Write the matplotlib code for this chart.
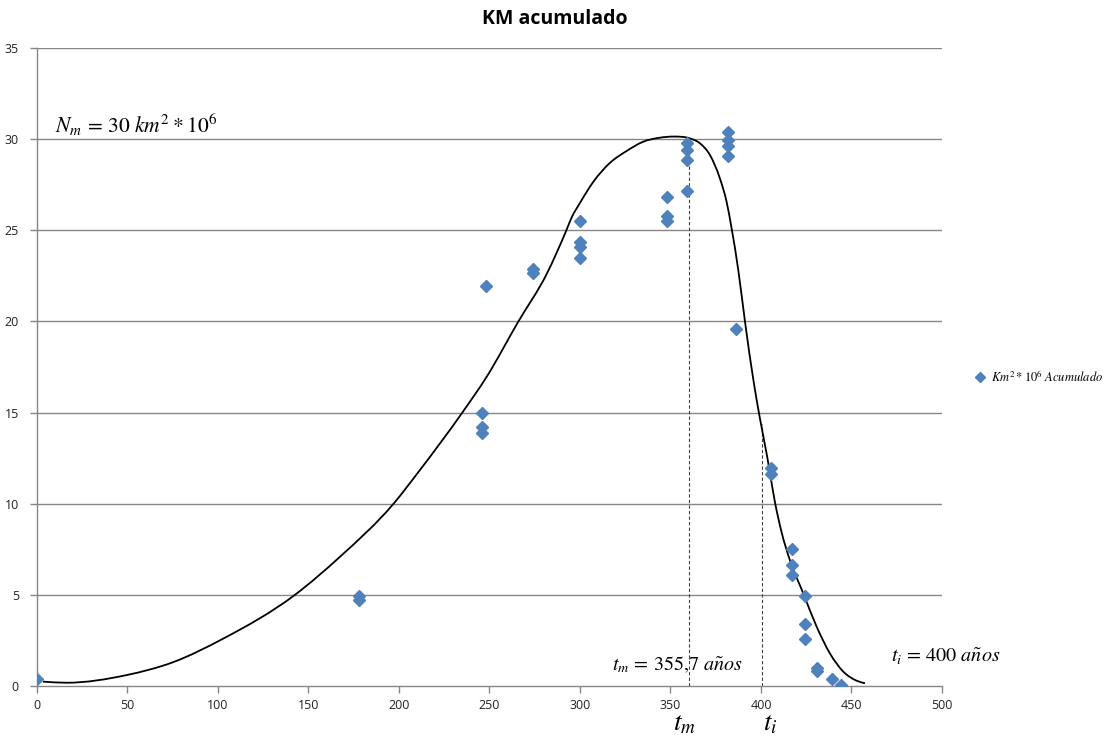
import numpy as np
import matplotlib
matplotlib.use("Agg")
import matplotlib.pyplot as plt
import matplotlib.transforms as mtransforms
from matplotlib.path import Path
from matplotlib.patches import PathPatch

plt.rcParams['font.family'] = ['Open Sans', 'DejaVu Sans']
plt.rcParams['mathtext.fontset'] = 'stix'

# Puntos medidos (años, km2 * 10^6 acumulado)
x_pts = [0, 178, 178, 246, 246, 246, 248, 274, 274, 300, 300, 300, 300,
         348, 348, 348, 359, 359, 359, 359, 382, 382, 382, 382, 386,
         405.5, 405.5, 417, 417, 417, 424.5, 424.5, 424.5, 431, 431, 439, 444.5]
y_pts = [0.38, 4.94, 4.72, 14.96, 14.22, 13.86, 21.94, 22.9, 22.64, 25.5, 24.37, 24.1, 23.46,
         26.8, 25.8, 25.5, 29.8, 29.4, 28.85, 27.15, 30.4, 29.95, 29.6, 29.07, 19.57,
         11.94, 11.63, 7.5, 6.64, 6.09, 4.94, 3.4, 2.6, 0.97, 0.8, 0.37, 0.05]

# Curva ajustada
x_fit = [3.3, 16.4, 49.5, 75, 102.9, 142.5, 167.4, 197, 211.6, 235, 248.5,
         266, 281.6, 292.5, 295.4, 300, 307.4, 316.6, 325.8, 335, 344.2,
         351.5, 360.8, 366.3, 371.8, 377.3, 381, 383.8, 387.5, 391.2, 395.8,
         399.4, 403.5, 407.7, 411.5, 416, 423.4, 430.8, 438.1, 445.5, 452.9, 457.5]
y_fit = [0.24, 0.18, 0.6, 1.3, 2.6, 5.0, 7.09, 10.0, 11.85, 15.0, 16.97,
         20.0, 22.6, 25.0, 25.7, 26.5, 27.66, 28.7, 29.35, 29.86, 30.08,
         30.14, 30.04, 29.77, 29.13, 27.85, 26.57, 25.1, 22.8, 19.98, 16.8,
         14.7, 12.55, 10.1, 8.4, 6.9, 5.08, 3.25, 1.79, 0.79, 0.29, 0.15]

t_m = 360.2
t_i = 400.5
y_tm = 30.04
y_ti = 14.4

x_ticks = np.arange(0, 501, 50)
y_ticks = np.arange(0, 36, 5)


def smooth_path(xs, ys):
    # linea suavizada (Hermite cubica en x -> Bezier)
    x = np.asarray(xs, float)
    y = np.asarray(ys, float)
    h = np.diff(x)
    d = np.diff(y) / h
    m = np.empty_like(y)
    m[0], m[-1] = d[0], d[-1]
    m[1:-1] = (d[:-1] * h[1:] + d[1:] * h[:-1]) / (h[:-1] + h[1:])
    verts = [(x[0], y[0])]
    codes = [Path.MOVETO]
    for i in range(len(x) - 1):
        verts += [(x[i] + h[i] / 3, y[i] + m[i] * h[i] / 3),
                  (x[i + 1] - h[i] / 3, y[i + 1] - m[i + 1] * h[i] / 3),
                  (x[i + 1], y[i + 1])]
        codes += [Path.CURVE4] * 3
    return Path(verts, codes)


fig = plt.figure(figsize=(11.1, 7.36), dpi=100)
ax = fig.add_axes([0.0333, 0.0679, 0.8153, 0.8669])

grid_c = '#868686'
for yt in y_ticks[1:]:
    ax.axhline(yt, color=grid_c, lw=1, zorder=0)

ax.plot([t_m, t_m], [0, y_tm], color='#404040', lw=0.8, ls=(0, (3, 2)), zorder=1)
ax.plot([t_i, t_i], [0, y_ti], color='#404040', lw=0.8, ls=(0, (3, 2)), zorder=1)

ax.add_patch(PathPatch(smooth_path(x_fit, y_fit), fill=False, edgecolor='black',
                       lw=1.3, zorder=2))
ax.plot(x_pts, y_pts, ls='none', marker='D', ms=6.5, color='#4F81BD',
        markeredgecolor='#4F81BD', label=r'$Km^2 * 10^6\ Acumulado$', zorder=3)

ax.set_xlim(0, 500)
ax.set_ylim(0, 35)
ax.set_xticks(x_ticks)
ax.set_yticks(y_ticks)
ax.tick_params(axis='both', direction='out', length=5, color=grid_c,
               labelsize=9, labelcolor='#222222', width=1)
ax.tick_params(axis='x', pad=4)
ax.tick_params(axis='y', pad=8)
for s in ['top', 'right']:
    ax.spines[s].set_visible(False)
for s in ['left', 'bottom']:
    ax.spines[s].set_color(grid_c)
    ax.spines[s].set_linewidth(1)

fig.text(0.5, 0.974, 'KM acumulado', ha='center', va='center',
         fontsize=14, fontweight='bold')

ax.text(10, 30.8, r'$N_m \,=\, 30\ km^2 * 10^6$', fontsize=15.5, va='center', ha='left')
ax.text(317.5, 1.15, r'$t_m \,=\, 355{,}7\ a\tilde{n}os$', fontsize=14.5, va='center', ha='left')
ax.text(472, 1.6, r'$t_i \,=\, 400\ a\tilde{n}os$', fontsize=14.5, va='center', ha='left',
        clip_on=False)

trans = mtransforms.blended_transform_factory(ax.transData, ax.transAxes)
ax.text(358, -0.058, r'$t_m$', fontsize=19.5, transform=trans, ha='center', va='center')
ax.text(405, -0.059, r'$t_i$', fontsize=19.5, transform=trans, ha='center', va='center')

ax.legend(loc='center left', bbox_to_anchor=(0.876, 0.488),
          bbox_transform=fig.transFigure, frameon=False, fontsize=9,
          handletextpad=0.3, handlelength=1.2, borderaxespad=0, borderpad=0,
          markerscale=0.8)

fig.savefig('out.png', dpi=100)
